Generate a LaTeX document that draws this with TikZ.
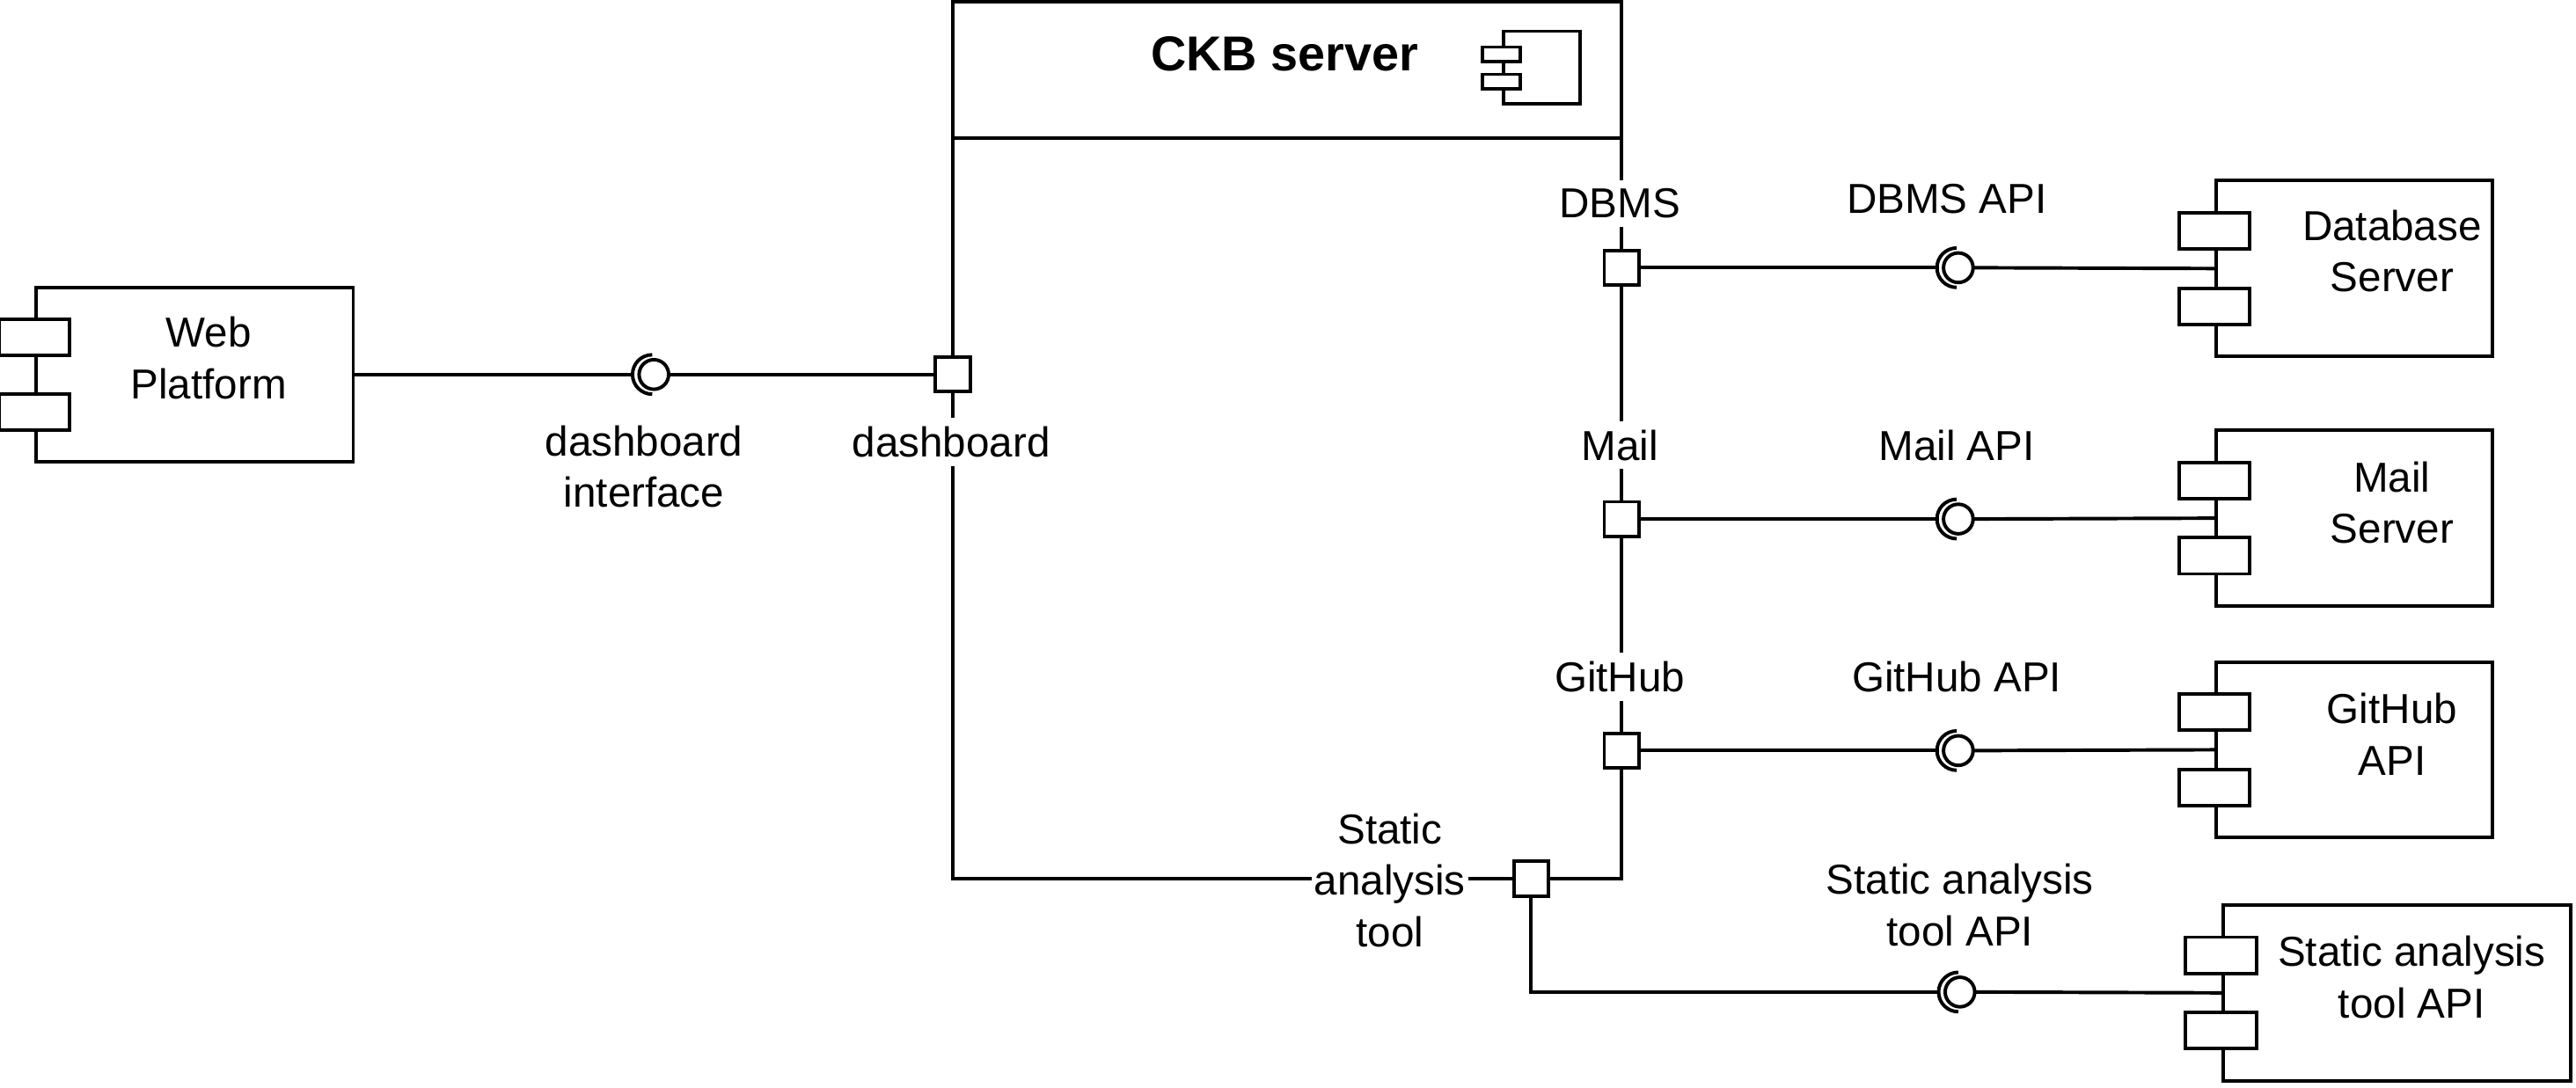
\documentclass[tikz,border=0pt]{standalone}
\usepackage{fontspec}
\setmainfont{Liberation Sans}
\usetikzlibrary{calc}
\tikzstyle{Wire} = [line width = 1.2pt, line cap = rect]

\newcommand{\comptabs}[1]{
    \node [tab] (#1-t1) at ($(#1.north west)!0.29!(#1.south west)$) {};
    \node [tab] (#1-t2) at ($(#1.north west)!0.71!(#1.south west)$) {};
}
\newcommand{\socket}[1]{
    \draw ($(#1.center)+(-1,-12)$) arc [start angle = 90, end angle = 270, radius = 2.4mm];
    \coordinate (#1-s) at ($(#1.center)+(-13,0)$);
}

\begin{document}
\begin{tikzpicture}[
x = 0.2mm, y = -0.2mm,
line width = 1.2pt,
comp/.style 2 args = {
    draw, rectangle,
    minimum width = #1*0.2mm,
    minimum height = #2*0.2mm
    },
tab/.style = {
    draw, fill = white, rectangle,
    minimum width = 43*0.2mm,
    minimum height = 22*0.2mm
    },
minitab/.style = {
    draw, fill = white, rectangle, inner sep = 0pt,
    minimum width = 23*0.2mm,
    minimum height = 9*0.2mm
    },
port/.style = {
    draw, fill = white, rectangle, inner sep = 0pt,
    minimum size = 21*0.2mm
    },
ball/.style = {
    draw, fill = white, circle, inner sep = 0pt,
    minimum size = 18*0.2mm
    },
txt/.style = {
    align = center,
    font = \fontsize{14.5}{17.8}\selectfont
    },
cut/.style = {
    txt, fill = white,
    inner xsep = 1pt, inner ysep = 3pt
    }
]

\useasboundingbox [fill = white] (0,0) rectangle (1568,662);

\node [comp = {407}{534}] (ckb) at (783.5,268) {};
\draw ($(ckb.north west)+(0,84)$) -- ($(ckb.north east)+(0,84)$);
\node [font = \bfseries\fontsize{17}{20}\selectfont] (ckbname) at (782,33) {CKB server};
\node [comp = {47}{44}] (icon) at (938.5,41) {};
\node [minitab] (icon-t1) at ($(icon.north west)!0.33!(icon.south west)$) {};
\node [minitab] (icon-t2) at ($(icon.north west)!0.69!(icon.south west)$) {};

\node [comp = {193}{106}] (web) at (118.5,228) {};
\comptabs{web}
\node [txt] (web-txt) at (127,218) {Web\\Platform};

\node [comp = {168}{107}] (db) at (1433,163.5) {};
\comptabs{db}
\node [txt] (db-txt) at (1456,153) {Database\\Server};

\node [comp = {168}{107}] (mail) at (1433,315.5) {};
\comptabs{mail}
\node [txt] (mail-txt) at (1456,306) {Mail\\Server};

\node [comp = {168}{107}] (gh) at (1433,456.5) {};
\comptabs{gh}
\node [txt] (gh-txt) at (1456,447) {GitHub\\API};

\node [comp = {212}{107}] (sa) at (1459,604.5) {};
\comptabs{sa}
\node [txt] (sa-txt) at (1468,595) {Static analysis\\tool API};

\node [cut] (dashp-lbl) at (579,269) {dashboard};
\node [cut] (dbmsp-lbl) at (986,124) {DBMS};
\node [cut] (mailp-lbl) at (986,271) {Mail};
\node [cut] (ghp-lbl) at (986,412) {GitHub};
\node [cut] (satp-lbl) at (846,536) {Static\\analysis\\tool};

\node [port] (dashp) at (580,228) {};
\node [port] (dbmsp) at (987,163) {};
\node [port] (mailp) at (987,316) {};
\node [port] (ghp) at (987,457) {};
\node [port] (satp) at (932,535) {};

\node [ball] (dif) at (398,228) {};
\socket{dif}
\node [ball] (dbi) at (1192,163) {};
\socket{dbi}
\node [ball] (maili) at (1192,316) {};
\socket{maili}
\node [ball] (ghi) at (1192,457) {};
\socket{ghi}
\node [ball] (sai) at (1193,604) {};
\socket{sai}

\node [txt] (dif-lbl) at (392,284) {dashboard\\interface};
\node [txt] (dbi-lbl) at (1185,121) {DBMS API};
\node [txt] (maili-lbl) at (1191,271) {Mail API};
\node [txt] (ghi-lbl) at (1191,412) {GitHub API};
\node [txt] (sai-lbl) at (1193,551) {Static analysis\\tool API};

\draw [Wire] (web.east) -- (dif-s);
\draw [Wire] (dif.east) -- (dashp.west);
\draw [Wire] (dbmsp.east) -- (dbi-s);
\draw [Wire] (dbi.east) -- (db.west);
\draw [Wire] (mailp.east) -- (maili-s);
\draw [Wire] (maili.east) -- (mail.west);
\draw [Wire] (ghp.east) -- (ghi-s);
\draw [Wire] (ghi.east) -- (gh.west);
\draw [Wire] (satp.south) |- (sai-s);
\draw [Wire] (sai.east) -- (sa.west);

\end{tikzpicture}
\end{document}
